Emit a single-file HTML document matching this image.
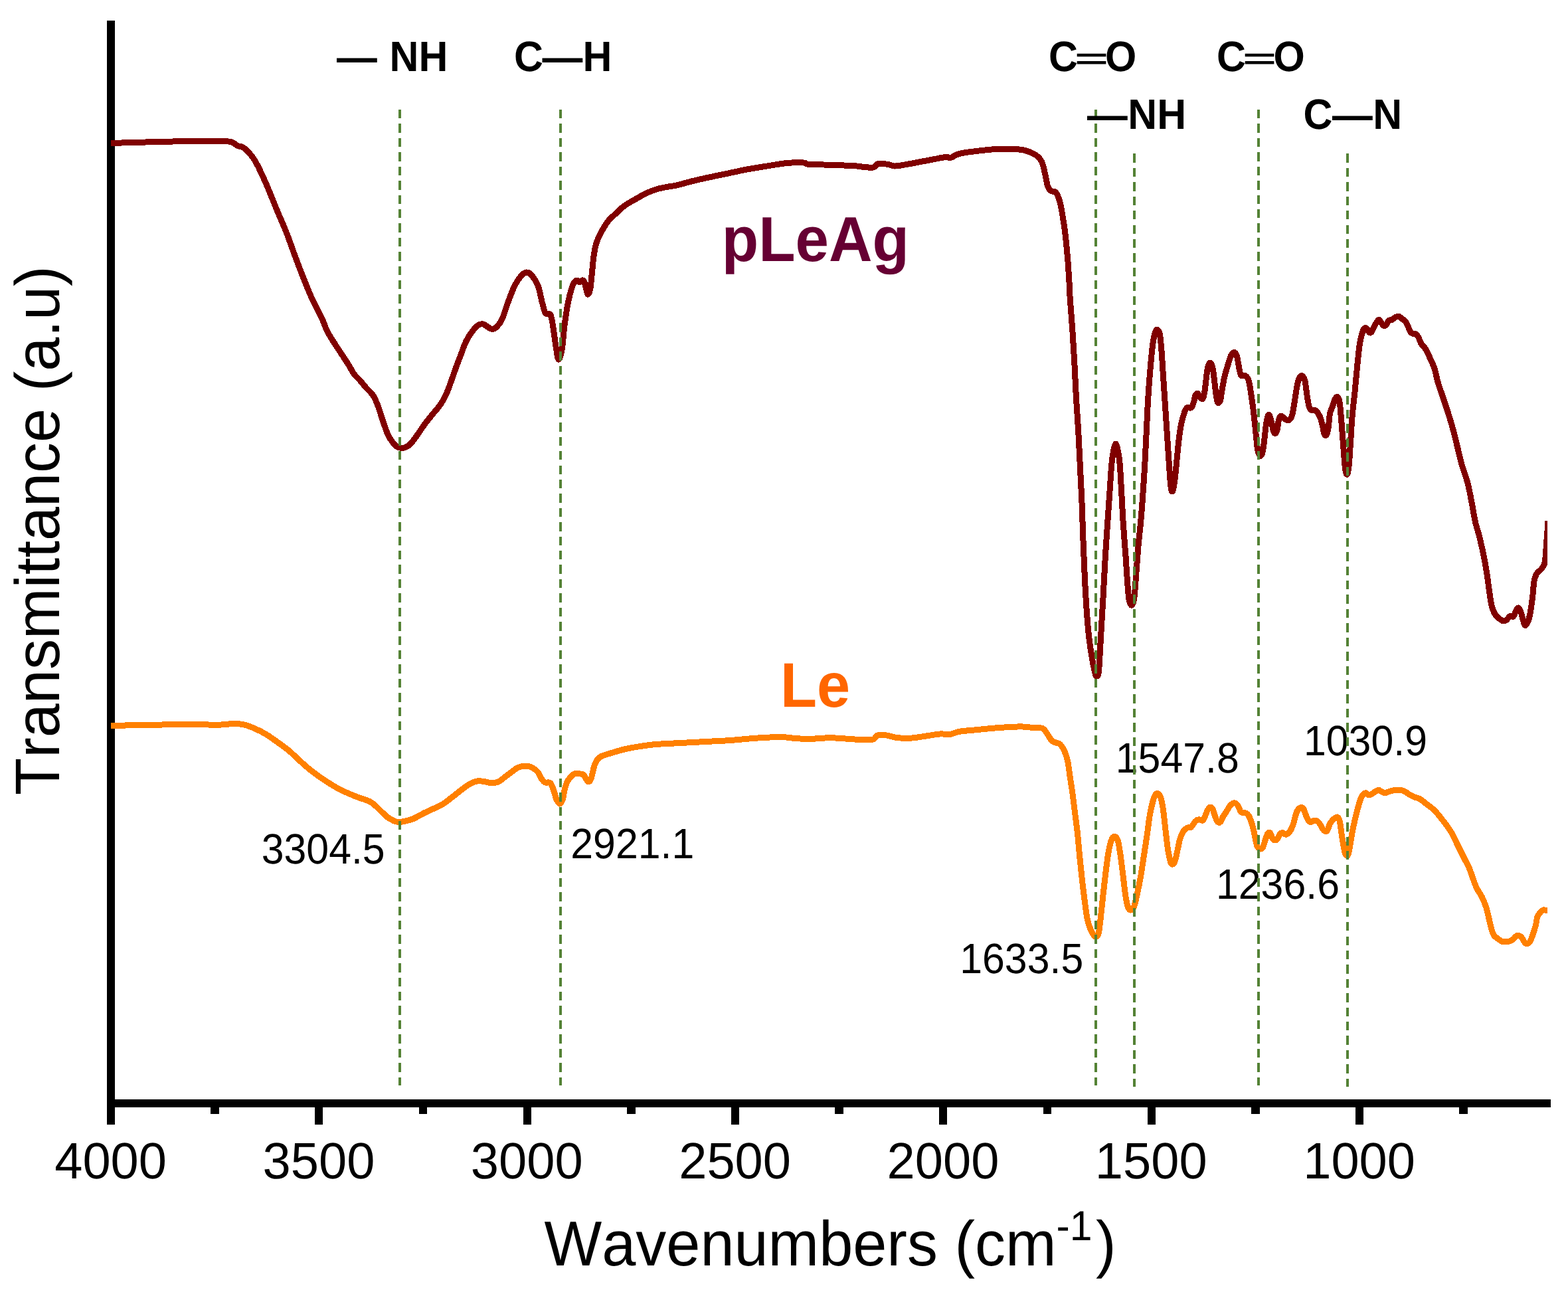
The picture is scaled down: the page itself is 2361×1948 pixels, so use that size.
<!DOCTYPE html>
<html lang="en">
<head>
<meta charset="utf-8">
<title>FTIR spectra of Le and pLeAg</title>
<style>
html,body{margin:0;padding:0;background:#fff;}
body{width:2361px;height:1948px;overflow:hidden;}
svg{display:block;}
text{font-family:"Liberation Sans",sans-serif;font-kerning:none;font-variant-ligatures:none;text-rendering:geometricPrecision;}
.b{font-weight:bold;}
</style>
</head>
<body>
<svg width="2361" height="1948" viewBox="0 0 2361 1948">
<rect x="0" y="0" width="2361" height="1948" fill="#ffffff"/>
<g fill="#000" shape-rendering="crispEdges">
<rect x="161.00" y="31" width="12" height="1661.75"/>
<rect x="161.00" y="1655.00" width="2174.00" height="12"/>
<rect x="161.00" y="1661.00" width="12" height="31.75"/>
<rect x="474.33" y="1661.00" width="12" height="31.75"/>
<rect x="787.66" y="1661.00" width="12" height="31.75"/>
<rect x="1100.99" y="1661.00" width="12" height="31.75"/>
<rect x="1414.32" y="1661.00" width="12" height="31.75"/>
<rect x="1727.65" y="1661.00" width="12" height="31.75"/>
<rect x="2040.98" y="1661.00" width="12" height="31.75"/>
<rect x="317.26" y="1661.00" width="12.80" height="16.00"/>
<rect x="630.60" y="1661.00" width="12.80" height="16.00"/>
<rect x="943.92" y="1661.00" width="12.80" height="16.00"/>
<rect x="1257.25" y="1661.00" width="12.80" height="16.00"/>
<rect x="1570.58" y="1661.00" width="12.80" height="16.00"/>
<rect x="1883.91" y="1661.00" width="12.80" height="16.00"/>
<rect x="2197.24" y="1661.00" width="12.80" height="16.00"/>
</g>
<defs><clipPath id="plotclip"><rect x="167" y="0" width="2163" height="1948"/></clipPath></defs>
<g clip-path="url(#plotclip)" shape-rendering="crispEdges">
<path d="M160.00 1092.50C161.12 1092.50 158.00 1092.67 166.75 1092.50C175.50 1092.33 196.54 1091.79 212.50 1091.50C228.46 1091.21 247.92 1090.96 262.50 1090.75C277.08 1090.54 289.58 1090.12 300.00 1090.25C310.42 1090.38 316.25 1091.62 325.00 1091.50C333.75 1091.38 345.42 1089.58 352.50 1089.50C359.58 1089.42 362.50 1089.88 367.50 1091.00C372.50 1092.12 377.08 1093.92 382.50 1096.25C387.92 1098.58 394.17 1101.54 400.00 1105.00C405.83 1108.46 411.67 1112.83 417.50 1117.00C423.33 1121.17 429.17 1125.12 435.00 1130.00C440.83 1134.88 446.67 1141.04 452.50 1146.25C458.33 1151.46 464.17 1156.67 470.00 1161.25C475.83 1165.83 480.83 1169.38 487.50 1173.75C494.17 1178.12 502.08 1183.33 510.00 1187.50C517.92 1191.67 527.08 1195.50 535.00 1198.75C542.92 1202.00 551.67 1203.88 557.50 1207.00C563.33 1210.12 565.83 1213.75 570.00 1217.50C574.17 1221.25 578.75 1226.50 582.50 1229.50C586.25 1232.50 589.58 1234.17 592.50 1235.50C595.42 1236.83 597.08 1237.38 600.00 1237.50C602.92 1237.62 606.25 1237.08 610.00 1236.25C613.75 1235.42 617.92 1234.46 622.50 1232.50C627.08 1230.54 632.50 1227.00 637.50 1224.50C642.50 1222.00 647.50 1219.92 652.50 1217.50C657.50 1215.08 662.50 1213.12 667.50 1210.00C672.50 1206.88 677.50 1202.58 682.50 1198.75C687.50 1194.92 692.92 1190.33 697.50 1187.00C702.08 1183.67 706.25 1180.62 710.00 1178.75C713.75 1176.88 716.67 1176.08 720.00 1175.75C723.33 1175.42 726.67 1176.25 730.00 1176.75C733.33 1177.25 736.67 1178.71 740.00 1178.75C743.33 1178.79 746.67 1178.46 750.00 1177.00C753.33 1175.54 756.67 1172.42 760.00 1170.00C763.33 1167.58 766.67 1164.92 770.00 1162.50C773.33 1160.08 776.46 1157.08 780.00 1155.50C783.54 1153.92 787.71 1153.00 791.25 1153.00C794.79 1153.00 798.12 1153.92 801.25 1155.50C804.38 1157.08 807.50 1159.46 810.00 1162.50C812.50 1165.54 814.38 1171.17 816.25 1173.75C818.12 1176.33 819.17 1177.17 821.25 1178.00C823.33 1178.83 826.67 1176.75 828.75 1178.75C830.83 1180.75 832.29 1186.04 833.75 1190.00C835.21 1193.96 836.25 1199.38 837.50 1202.50C838.75 1205.62 840.21 1207.58 841.25 1208.75C842.29 1209.92 842.71 1210.54 843.75 1209.50C844.79 1208.46 846.46 1205.75 847.50 1202.50C848.54 1199.25 848.96 1194.17 850.00 1190.00C851.04 1185.83 852.08 1181.04 853.75 1177.50C855.42 1173.96 857.92 1170.92 860.00 1168.75C862.08 1166.58 863.96 1165.12 866.25 1164.50C868.54 1163.88 871.67 1164.71 873.75 1165.00C875.83 1165.29 877.29 1165.00 878.75 1166.25C880.21 1167.50 881.25 1170.71 882.50 1172.50C883.75 1174.29 885.00 1177.00 886.25 1177.00C887.50 1177.00 888.96 1174.92 890.00 1172.50C891.04 1170.08 891.67 1165.83 892.50 1162.50C893.33 1159.17 893.96 1155.50 895.00 1152.50C896.04 1149.50 897.08 1146.79 898.75 1144.50C900.42 1142.21 901.46 1140.54 905.00 1138.75C908.54 1136.96 914.17 1135.54 920.00 1133.75C925.83 1131.96 932.92 1129.67 940.00 1128.00C947.08 1126.33 954.58 1125.00 962.50 1123.75C970.42 1122.50 977.08 1121.38 987.50 1120.50C997.92 1119.62 1012.50 1119.17 1025.00 1118.50C1037.50 1117.83 1050.00 1117.17 1062.50 1116.50C1075.00 1115.83 1087.50 1115.38 1100.00 1114.50C1112.50 1113.62 1125.00 1112.08 1137.50 1111.25C1150.00 1110.42 1165.42 1109.50 1175.00 1109.50C1184.58 1109.50 1187.92 1110.75 1195.00 1111.25C1202.08 1111.75 1208.33 1112.58 1217.50 1112.50C1226.67 1112.42 1239.58 1110.75 1250.00 1110.75C1260.42 1110.75 1271.67 1112.00 1280.00 1112.50C1288.33 1113.00 1294.17 1113.67 1300.00 1113.75C1305.83 1113.83 1311.46 1114.12 1315.00 1113.00C1318.54 1111.88 1317.92 1108.00 1321.25 1107.00C1324.58 1106.00 1330.21 1106.42 1335.00 1107.00C1339.79 1107.58 1344.17 1109.79 1350.00 1110.50C1355.83 1111.21 1363.33 1111.54 1370.00 1111.25C1376.67 1110.96 1382.50 1109.79 1390.00 1108.75C1397.50 1107.71 1408.33 1105.54 1415.00 1105.00C1421.67 1104.46 1425.00 1106.12 1430.00 1105.50C1435.00 1104.88 1438.33 1102.38 1445.00 1101.25C1451.67 1100.12 1461.67 1099.58 1470.00 1098.75C1478.33 1097.92 1486.67 1096.96 1495.00 1096.25C1503.33 1095.54 1512.50 1094.88 1520.00 1094.50C1527.50 1094.12 1533.75 1093.79 1540.00 1094.00C1546.25 1094.21 1552.50 1095.33 1557.50 1095.75C1562.50 1096.17 1566.88 1095.17 1570.00 1096.50C1573.12 1097.83 1573.96 1100.67 1576.25 1103.75C1578.54 1106.83 1581.46 1112.62 1583.75 1115.00C1586.04 1117.38 1587.92 1117.08 1590.00 1118.00C1592.08 1118.92 1594.17 1118.50 1596.25 1120.50C1598.33 1122.50 1600.62 1125.92 1602.50 1130.00C1604.38 1134.08 1606.04 1138.33 1607.50 1145.00C1608.96 1151.67 1610.00 1161.67 1611.25 1170.00C1612.50 1178.33 1613.75 1185.83 1615.00 1195.00C1616.25 1204.17 1617.50 1215.00 1618.75 1225.00C1620.00 1235.00 1621.25 1243.33 1622.50 1255.00C1623.75 1266.67 1625.00 1282.50 1626.25 1295.00C1627.50 1307.50 1628.75 1319.17 1630.00 1330.00C1631.25 1340.83 1632.50 1350.83 1633.75 1360.00C1635.00 1369.17 1636.04 1378.33 1637.50 1385.00C1638.96 1391.67 1640.83 1396.04 1642.50 1400.00C1644.17 1403.96 1646.04 1407.08 1647.50 1408.75C1648.96 1410.42 1650.08 1410.83 1651.25 1410.00C1652.42 1409.17 1653.46 1408.75 1654.50 1403.75C1655.54 1398.75 1656.38 1389.79 1657.50 1380.00C1658.62 1370.21 1660.00 1356.25 1661.25 1345.00C1662.50 1333.75 1663.75 1322.50 1665.00 1312.50C1666.25 1302.50 1667.50 1292.50 1668.75 1285.00C1670.00 1277.50 1671.25 1271.67 1672.50 1267.50C1673.75 1263.33 1675.00 1261.25 1676.25 1260.00C1677.50 1258.75 1678.75 1258.75 1680.00 1260.00C1681.25 1261.25 1682.50 1262.50 1683.75 1267.50C1685.00 1272.50 1686.25 1281.25 1687.50 1290.00C1688.75 1298.75 1690.00 1310.00 1691.25 1320.00C1692.50 1330.00 1693.75 1342.29 1695.00 1350.00C1696.25 1357.71 1697.50 1362.92 1698.75 1366.25C1700.00 1369.58 1701.04 1370.21 1702.50 1370.00C1703.96 1369.79 1705.83 1369.17 1707.50 1365.00C1709.17 1360.83 1710.83 1352.50 1712.50 1345.00C1714.17 1337.50 1715.83 1329.58 1717.50 1320.00C1719.17 1310.42 1720.83 1298.33 1722.50 1287.50C1724.17 1276.67 1726.04 1265.00 1727.50 1255.00C1728.96 1245.00 1729.79 1235.83 1731.25 1227.50C1732.71 1219.17 1734.79 1210.21 1736.25 1205.00C1737.71 1199.79 1738.75 1197.92 1740.00 1196.25C1741.25 1194.58 1742.50 1194.38 1743.75 1195.00C1745.00 1195.62 1746.25 1196.25 1747.50 1200.00C1748.75 1203.75 1750.00 1209.17 1751.25 1217.50C1752.50 1225.83 1753.75 1239.58 1755.00 1250.00C1756.25 1260.42 1757.50 1272.08 1758.75 1280.00C1760.00 1287.92 1761.46 1293.96 1762.50 1297.50C1763.54 1301.04 1763.96 1301.25 1765.00 1301.25C1766.04 1301.25 1767.50 1300.62 1768.75 1297.50C1770.00 1294.38 1771.25 1287.92 1772.50 1282.50C1773.75 1277.08 1774.79 1270.00 1776.25 1265.00C1777.71 1260.00 1779.38 1255.62 1781.25 1252.50C1783.12 1249.38 1785.42 1247.50 1787.50 1246.25C1789.58 1245.00 1791.67 1246.67 1793.75 1245.00C1795.83 1243.33 1798.12 1238.12 1800.00 1236.25C1801.88 1234.38 1803.12 1233.96 1805.00 1233.75C1806.88 1233.54 1809.58 1236.04 1811.25 1235.00C1812.92 1233.96 1813.75 1230.21 1815.00 1227.50C1816.25 1224.79 1817.50 1220.83 1818.75 1218.75C1820.00 1216.67 1821.25 1215.00 1822.50 1215.00C1823.75 1215.00 1825.00 1216.25 1826.25 1218.75C1827.50 1221.25 1828.75 1226.88 1830.00 1230.00C1831.25 1233.12 1832.50 1236.25 1833.75 1237.50C1835.00 1238.75 1836.25 1238.75 1837.50 1237.50C1838.75 1236.25 1839.79 1232.50 1841.25 1230.00C1842.71 1227.50 1844.38 1225.42 1846.25 1222.50C1848.12 1219.58 1850.42 1214.79 1852.50 1212.50C1854.58 1210.21 1856.88 1208.75 1858.75 1208.75C1860.62 1208.75 1862.08 1210.21 1863.75 1212.50C1865.42 1214.79 1866.88 1220.62 1868.75 1222.50C1870.62 1224.38 1873.12 1222.92 1875.00 1223.75C1876.88 1224.58 1878.33 1224.79 1880.00 1227.50C1881.67 1230.21 1883.54 1235.42 1885.00 1240.00C1886.46 1244.58 1887.50 1249.58 1888.75 1255.00C1890.00 1260.42 1891.25 1268.75 1892.50 1272.50C1893.75 1276.25 1894.79 1276.88 1896.25 1277.50C1897.71 1278.12 1899.79 1278.33 1901.25 1276.25C1902.71 1274.17 1903.75 1268.54 1905.00 1265.00C1906.25 1261.46 1907.50 1256.88 1908.75 1255.00C1910.00 1253.12 1911.25 1252.50 1912.50 1253.75C1913.75 1255.00 1915.00 1260.62 1916.25 1262.50C1917.50 1264.38 1918.75 1265.00 1920.00 1265.00C1921.25 1265.00 1922.50 1264.17 1923.75 1262.50C1925.00 1260.83 1926.25 1256.46 1927.50 1255.00C1928.75 1253.54 1929.79 1253.54 1931.25 1253.75C1932.71 1253.96 1934.38 1256.67 1936.25 1256.25C1938.12 1255.83 1940.62 1253.96 1942.50 1251.25C1944.38 1248.54 1945.83 1244.79 1947.50 1240.00C1949.17 1235.21 1950.83 1226.46 1952.50 1222.50C1954.17 1218.54 1955.83 1217.08 1957.50 1216.25C1959.17 1215.42 1960.83 1215.21 1962.50 1217.50C1964.17 1219.79 1965.83 1226.67 1967.50 1230.00C1969.17 1233.33 1970.42 1236.67 1972.50 1237.50C1974.58 1238.33 1977.71 1234.79 1980.00 1235.00C1982.29 1235.21 1984.38 1236.67 1986.25 1238.75C1988.12 1240.83 1989.79 1245.42 1991.25 1247.50C1992.71 1249.58 1993.75 1250.83 1995.00 1251.25C1996.25 1251.67 1997.50 1251.88 1998.75 1250.00C2000.00 1248.12 2001.04 1242.71 2002.50 1240.00C2003.96 1237.29 2005.62 1235.42 2007.50 1233.75C2009.38 1232.08 2012.08 1229.38 2013.75 1230.00C2015.42 1230.62 2016.46 1233.33 2017.50 1237.50C2018.54 1241.67 2018.96 1248.33 2020.00 1255.00C2021.04 1261.67 2022.71 1272.29 2023.75 1277.50C2024.79 1282.71 2025.29 1284.58 2026.25 1286.25C2027.21 1287.92 2028.46 1289.38 2029.50 1287.50C2030.54 1285.62 2031.38 1280.83 2032.50 1275.00C2033.62 1269.17 2035.00 1259.17 2036.25 1252.50C2037.50 1245.83 2038.54 1241.25 2040.00 1235.00C2041.46 1228.75 2043.33 1220.83 2045.00 1215.00C2046.67 1209.17 2048.12 1203.54 2050.00 1200.00C2051.88 1196.46 2054.38 1194.25 2056.25 1193.75C2058.12 1193.25 2059.58 1196.79 2061.25 1197.00C2062.92 1197.21 2064.58 1195.96 2066.25 1195.00C2067.92 1194.04 2069.62 1192.17 2071.25 1191.25C2072.88 1190.33 2074.75 1189.58 2076.00 1189.50C2077.25 1189.42 2077.25 1190.04 2078.75 1190.75C2080.25 1191.46 2082.71 1193.67 2085.00 1193.75C2087.29 1193.83 2090.00 1191.96 2092.50 1191.25C2095.00 1190.54 2097.50 1189.83 2100.00 1189.50C2102.50 1189.17 2105.00 1188.96 2107.50 1189.25C2110.00 1189.54 2112.50 1190.08 2115.00 1191.25C2117.50 1192.42 2120.00 1194.79 2122.50 1196.25C2125.00 1197.71 2127.50 1198.96 2130.00 1200.00C2132.50 1201.04 2134.58 1200.83 2137.50 1202.50C2140.42 1204.17 2143.75 1207.08 2147.50 1210.00C2151.25 1212.92 2155.83 1215.83 2160.00 1220.00C2164.17 1224.17 2168.33 1229.58 2172.50 1235.00C2176.67 1240.42 2181.25 1246.25 2185.00 1252.50C2188.75 1258.75 2191.67 1265.83 2195.00 1272.50C2198.33 1279.17 2202.08 1286.67 2205.00 1292.50C2207.92 1298.33 2210.21 1302.08 2212.50 1307.50C2214.79 1312.92 2216.88 1320.00 2218.75 1325.00C2220.62 1330.00 2221.67 1333.33 2223.75 1337.50C2225.83 1341.67 2228.96 1345.42 2231.25 1350.00C2233.54 1354.58 2235.62 1359.17 2237.50 1365.00C2239.38 1370.83 2241.04 1379.17 2242.50 1385.00C2243.96 1390.83 2245.00 1396.04 2246.25 1400.00C2247.50 1403.96 2248.33 1406.46 2250.00 1408.75C2251.67 1411.04 2254.17 1412.29 2256.25 1413.75C2258.33 1415.21 2259.79 1416.96 2262.50 1417.50C2265.21 1418.04 2269.79 1417.62 2272.50 1417.00C2275.21 1416.38 2276.88 1415.12 2278.75 1413.75C2280.62 1412.38 2281.88 1409.38 2283.75 1408.75C2285.62 1408.12 2288.12 1408.54 2290.00 1410.00C2291.88 1411.46 2293.54 1415.71 2295.00 1417.50C2296.46 1419.29 2297.29 1420.75 2298.75 1420.75C2300.21 1420.75 2302.08 1420.12 2303.75 1417.50C2305.42 1414.88 2307.29 1409.17 2308.75 1405.00C2310.21 1400.83 2311.46 1396.67 2312.50 1392.50C2313.54 1388.33 2313.75 1383.33 2315.00 1380.00C2316.25 1376.67 2318.54 1374.17 2320.00 1372.50C2321.46 1370.83 2322.42 1370.38 2323.75 1370.00C2325.08 1369.62 2326.29 1370.20 2328.00 1370.25C2329.71 1370.30 2333.00 1370.29 2334.00 1370.30" fill="none" stroke="#ff8000" stroke-width="9" stroke-linejoin="round" stroke-linecap="butt"/>
<path d="M160.00 215.75C161.12 215.71 160.08 215.71 166.75 215.50C173.42 215.29 186.12 214.88 200.00 214.50C213.88 214.12 237.50 213.54 250.00 213.25C262.50 212.96 264.58 212.83 275.00 212.75C285.42 212.67 300.62 212.67 312.50 212.75C324.38 212.83 338.75 212.12 346.25 213.25C353.75 214.38 354.38 218.17 357.50 219.50C360.62 220.83 362.08 219.50 365.00 221.25C367.92 223.00 371.67 226.25 375.00 230.00C378.33 233.75 380.83 236.25 385.00 243.75C389.17 251.25 394.58 262.71 400.00 275.00C405.42 287.29 412.29 305.00 417.50 317.50C422.71 330.00 426.67 338.33 431.25 350.00C435.83 361.67 440.62 375.83 445.00 387.50C449.38 399.17 453.33 409.58 457.50 420.00C461.67 430.42 465.42 440.00 470.00 450.00C474.58 460.00 481.10 471.67 485.00 480.00C488.90 488.33 489.38 492.50 493.38 500.00C497.38 507.50 505.02 518.75 509.00 525.00C512.98 531.25 514.52 533.33 517.25 537.50C519.98 541.67 522.71 545.71 525.38 550.00C528.04 554.29 530.48 559.50 533.25 563.25C536.02 567.00 539.04 569.12 542.00 572.50C544.96 575.88 548.38 580.54 551.00 583.50C553.62 586.46 555.73 587.92 557.75 590.25C559.77 592.58 561.29 594.21 563.12 597.50C564.96 600.79 566.98 605.42 568.75 610.00C570.52 614.58 572.08 620.00 573.75 625.00C575.42 630.00 576.98 635.00 578.75 640.00C580.52 645.00 582.40 650.83 584.38 655.00C586.35 659.17 588.54 662.19 590.62 665.00C592.71 667.81 594.69 670.31 596.88 671.88C599.06 673.44 601.35 674.17 603.75 674.38C606.15 674.58 608.75 674.27 611.25 673.12C613.75 671.98 616.35 669.90 618.75 667.50C621.15 665.10 623.33 661.88 625.62 658.75C627.92 655.62 629.90 652.50 632.50 648.75C635.10 645.00 638.12 640.42 641.25 636.25C644.38 632.08 647.71 628.12 651.25 623.75C654.79 619.38 659.38 614.38 662.50 610.00C665.62 605.62 667.71 602.08 670.00 597.50C672.29 592.92 674.17 587.92 676.25 582.50C678.33 577.08 680.42 570.83 682.50 565.00C684.58 559.17 686.67 553.12 688.75 547.50C690.83 541.88 692.92 536.67 695.00 531.25C697.08 525.83 698.71 520.21 701.25 515.00C703.79 509.79 707.12 504.25 710.25 500.00C713.38 495.75 717.12 491.50 720.00 489.50C722.88 487.50 725.00 487.50 727.50 488.00C730.00 488.50 732.71 491.25 735.00 492.50C737.29 493.75 738.96 495.71 741.25 495.50C743.54 495.29 746.25 493.83 748.75 491.25C751.25 488.67 753.54 486.04 756.25 480.00C758.96 473.96 761.88 463.33 765.00 455.00C768.12 446.67 771.67 436.67 775.00 430.00C778.33 423.33 782.08 418.33 785.00 415.00C787.92 411.67 790.00 410.21 792.50 410.00C795.00 409.79 797.08 410.42 800.00 413.75C802.92 417.08 807.29 423.12 810.00 430.00C812.71 436.88 814.38 448.12 816.25 455.00C818.12 461.88 819.17 468.12 821.25 471.25C823.33 474.38 826.88 470.62 828.75 473.75C830.62 476.88 831.04 481.46 832.50 490.00C833.96 498.54 836.04 516.46 837.50 525.00C838.96 533.54 839.79 541.25 841.25 541.25C842.71 541.25 844.79 533.54 846.25 525.00C847.71 516.46 848.54 501.25 850.00 490.00C851.46 478.75 853.12 467.08 855.00 457.50C856.88 447.92 859.38 438.25 861.25 432.50C863.12 426.75 864.79 424.67 866.25 423.00C867.71 421.33 868.88 422.21 870.00 422.50C871.12 422.79 871.92 424.83 873.00 424.75C874.08 424.67 875.42 422.17 876.50 422.00C877.58 421.83 878.62 422.21 879.50 423.75C880.38 425.29 880.83 428.04 881.75 431.25C882.67 434.46 883.83 442.38 885.00 443.00C886.17 443.62 887.71 440.08 888.75 435.00C889.79 429.92 890.42 420.42 891.25 412.50C892.08 404.58 892.71 395.00 893.75 387.50C894.79 380.00 895.83 373.33 897.50 367.50C899.17 361.67 900.83 358.12 903.75 352.50C906.67 346.88 911.04 338.96 915.00 333.75C918.96 328.54 923.33 325.21 927.50 321.25C931.67 317.29 935.00 313.62 940.00 310.00C945.00 306.38 951.67 302.83 957.50 299.50C963.33 296.17 969.58 292.50 975.00 290.00C980.42 287.50 985.00 285.96 990.00 284.50C995.00 283.04 1000.00 282.21 1005.00 281.25C1010.00 280.29 1014.17 280.08 1020.00 278.75C1025.83 277.42 1032.50 275.12 1040.00 273.25C1047.50 271.38 1055.83 269.50 1065.00 267.50C1074.17 265.50 1085.00 263.33 1095.00 261.25C1105.00 259.17 1115.00 256.88 1125.00 255.00C1135.00 253.12 1145.00 251.58 1155.00 250.00C1165.00 248.42 1175.83 246.33 1185.00 245.50C1194.17 244.67 1204.58 244.67 1210.00 245.00C1215.42 245.33 1212.50 247.00 1217.50 247.50C1222.50 248.00 1232.08 247.79 1240.00 248.00C1247.92 248.21 1256.67 248.42 1265.00 248.75C1273.33 249.08 1284.17 249.58 1290.00 250.00C1295.83 250.42 1295.83 250.92 1300.00 251.25C1304.17 251.58 1311.25 252.83 1315.00 252.00C1318.75 251.17 1318.75 247.00 1322.50 246.25C1326.25 245.50 1333.33 246.88 1337.50 247.50C1341.67 248.12 1342.92 250.00 1347.50 250.00C1352.08 250.00 1358.75 248.54 1365.00 247.50C1371.25 246.46 1378.33 245.00 1385.00 243.75C1391.67 242.50 1398.33 241.25 1405.00 240.00C1411.67 238.75 1420.62 236.67 1425.00 236.25C1429.38 235.83 1427.92 238.33 1431.25 237.50C1434.58 236.67 1438.54 232.92 1445.00 231.25C1451.46 229.58 1460.83 228.62 1470.00 227.50C1479.17 226.38 1490.83 225.00 1500.00 224.50C1509.17 224.00 1517.92 224.21 1525.00 224.50C1532.08 224.79 1536.67 224.71 1542.50 226.25C1548.33 227.79 1555.62 230.83 1560.00 233.75C1564.38 236.67 1566.46 238.96 1568.75 243.75C1571.04 248.54 1572.29 256.46 1573.75 262.50C1575.21 268.54 1576.04 275.83 1577.50 280.00C1578.96 284.17 1580.42 285.83 1582.50 287.50C1584.58 289.17 1587.71 287.08 1590.00 290.00C1592.29 292.92 1594.58 299.17 1596.25 305.00C1597.92 310.83 1598.75 317.50 1600.00 325.00C1601.25 332.50 1602.50 339.58 1603.75 350.00C1605.00 360.42 1606.46 375.00 1607.50 387.50C1608.54 400.00 1609.38 414.58 1610.00 425.00C1610.62 435.42 1610.42 437.50 1611.25 450.00C1612.08 462.50 1613.88 483.33 1615.00 500.00C1616.12 516.67 1617.08 533.33 1618.00 550.00C1618.92 566.67 1619.54 583.33 1620.50 600.00C1621.46 616.67 1622.79 633.33 1623.75 650.00C1624.71 666.67 1625.42 683.33 1626.25 700.00C1627.08 716.67 1628.04 733.33 1628.75 750.00C1629.46 766.67 1629.88 783.33 1630.50 800.00C1631.12 816.67 1631.75 833.33 1632.50 850.00C1633.25 866.67 1633.96 883.33 1635.00 900.00C1636.04 916.67 1637.29 935.42 1638.75 950.00C1640.21 964.58 1642.08 977.08 1643.75 987.50C1645.42 997.92 1647.50 1007.42 1648.75 1012.50C1650.00 1017.58 1650.29 1018.42 1651.25 1018.00C1652.21 1017.58 1653.46 1019.67 1654.50 1010.00C1655.54 1000.33 1656.42 978.33 1657.50 960.00C1658.58 941.67 1659.85 920.50 1661.00 900.00C1662.15 879.50 1663.32 855.33 1664.40 837.00C1665.48 818.67 1666.47 805.33 1667.50 790.00C1668.53 774.67 1669.56 760.00 1670.60 745.00C1671.64 730.00 1672.78 710.83 1673.75 700.00C1674.72 689.17 1675.36 685.33 1676.40 680.00C1677.44 674.67 1678.80 668.00 1680.00 668.00C1681.20 668.00 1682.56 674.67 1683.60 680.00C1684.64 685.33 1685.37 689.17 1686.25 700.00C1687.13 710.83 1688.07 730.42 1688.90 745.00C1689.73 759.58 1690.23 772.08 1691.25 787.50C1692.27 802.92 1693.96 822.92 1695.00 837.50C1696.04 852.08 1696.67 864.17 1697.50 875.00C1698.33 885.83 1698.96 896.46 1700.00 902.50C1701.04 908.54 1702.50 911.25 1703.75 911.25C1705.00 911.25 1706.46 908.54 1707.50 902.50C1708.54 896.46 1708.96 887.92 1710.00 875.00C1711.04 862.08 1712.50 839.58 1713.75 825.00C1715.00 810.42 1716.38 800.00 1717.50 787.50C1718.62 775.00 1719.46 764.58 1720.50 750.00C1721.54 735.42 1722.79 716.67 1723.75 700.00C1724.71 683.33 1725.42 666.67 1726.25 650.00C1727.08 633.33 1727.71 616.67 1728.75 600.00C1729.79 583.33 1731.25 564.17 1732.50 550.00C1733.75 535.83 1735.08 523.33 1736.25 515.00C1737.42 506.67 1738.46 503.12 1739.50 500.00C1740.54 496.88 1741.38 495.83 1742.50 496.25C1743.62 496.67 1745.21 497.71 1746.25 502.50C1747.29 507.29 1747.92 515.00 1748.75 525.00C1749.58 535.00 1750.42 550.00 1751.25 562.50C1752.08 575.00 1752.92 587.50 1753.75 600.00C1754.58 612.50 1755.42 625.00 1756.25 637.50C1757.08 650.00 1757.92 662.50 1758.75 675.00C1759.58 687.50 1760.54 702.92 1761.25 712.50C1761.96 722.08 1762.38 727.92 1763.00 732.50C1763.62 737.08 1764.25 740.00 1765.00 740.00C1765.75 740.00 1766.67 737.08 1767.50 732.50C1768.33 727.92 1769.17 720.00 1770.00 712.50C1770.83 705.00 1771.67 695.83 1772.50 687.50C1773.33 679.17 1773.96 670.83 1775.00 662.50C1776.04 654.17 1777.29 644.58 1778.75 637.50C1780.21 630.42 1782.29 623.96 1783.75 620.00C1785.21 616.04 1785.83 614.79 1787.50 613.75C1789.17 612.71 1792.08 615.21 1793.75 613.75C1795.42 612.29 1796.46 608.12 1797.50 605.00C1798.54 601.88 1798.96 597.08 1800.00 595.00C1801.04 592.92 1802.50 591.88 1803.75 592.50C1805.00 593.12 1806.25 597.50 1807.50 598.75C1808.75 600.00 1810.21 601.46 1811.25 600.00C1812.29 598.54 1812.92 595.00 1813.75 590.00C1814.58 585.00 1815.42 576.25 1816.25 570.00C1817.08 563.75 1817.71 556.46 1818.75 552.50C1819.79 548.54 1821.25 545.83 1822.50 546.25C1823.75 546.67 1825.21 550.21 1826.25 555.00C1827.29 559.79 1827.92 568.33 1828.75 575.00C1829.58 581.67 1830.42 589.79 1831.25 595.00C1832.08 600.21 1832.71 605.00 1833.75 606.25C1834.79 607.50 1836.46 605.62 1837.50 602.50C1838.54 599.38 1838.96 593.33 1840.00 587.50C1841.04 581.67 1842.29 573.75 1843.75 567.50C1845.21 561.25 1847.08 555.42 1848.75 550.00C1850.42 544.58 1852.08 538.25 1853.75 535.00C1855.42 531.75 1857.29 530.29 1858.75 530.50C1860.21 530.71 1861.38 532.58 1862.50 536.25C1863.62 539.92 1864.46 547.71 1865.50 552.50C1866.54 557.29 1867.17 562.83 1868.75 565.00C1870.33 567.17 1873.12 564.25 1875.00 565.50C1876.88 566.75 1878.54 568.00 1880.00 572.50C1881.46 577.00 1882.50 584.58 1883.75 592.50C1885.00 600.42 1886.25 609.58 1887.50 620.00C1888.75 630.42 1890.21 645.42 1891.25 655.00C1892.29 664.58 1892.71 672.29 1893.75 677.50C1894.79 682.71 1896.25 685.83 1897.50 686.25C1898.75 686.67 1900.21 683.96 1901.25 680.00C1902.29 676.04 1902.92 669.17 1903.75 662.50C1904.58 655.83 1905.42 645.83 1906.25 640.00C1907.08 634.17 1907.92 630.00 1908.75 627.50C1909.58 625.00 1910.29 623.75 1911.25 625.00C1912.21 626.25 1913.54 631.25 1914.50 635.00C1915.46 638.75 1916.08 644.58 1917.00 647.50C1917.92 650.42 1919.00 652.50 1920.00 652.50C1921.00 652.50 1922.08 650.83 1923.00 647.50C1923.92 644.17 1924.54 636.04 1925.50 632.50C1926.46 628.96 1927.58 626.88 1928.75 626.25C1929.92 625.62 1931.04 627.71 1932.50 628.75C1933.96 629.79 1935.83 632.08 1937.50 632.50C1939.17 632.92 1941.04 632.92 1942.50 631.25C1943.96 629.58 1945.00 627.71 1946.25 622.50C1947.50 617.29 1948.75 607.50 1950.00 600.00C1951.25 592.50 1952.50 582.92 1953.75 577.50C1955.00 572.08 1956.25 569.38 1957.50 567.50C1958.75 565.62 1960.00 565.21 1961.25 566.25C1962.50 567.29 1963.88 568.96 1965.00 573.75C1966.12 578.54 1966.96 588.54 1968.00 595.00C1969.04 601.46 1970.08 608.75 1971.25 612.50C1972.42 616.25 1973.33 616.58 1975.00 617.50C1976.67 618.42 1979.17 616.33 1981.25 618.00C1983.33 619.67 1985.83 623.83 1987.50 627.50C1989.17 631.17 1990.21 635.83 1991.25 640.00C1992.29 644.17 1992.79 650.00 1993.75 652.50C1994.71 655.00 1995.96 656.25 1997.00 655.00C1998.04 653.75 1999.08 650.42 2000.00 645.00C2000.92 639.58 2001.46 627.92 2002.50 622.50C2003.54 617.08 2005.00 616.04 2006.25 612.50C2007.50 608.96 2008.75 603.75 2010.00 601.25C2011.25 598.75 2012.58 596.88 2013.75 597.50C2014.92 598.12 2016.04 599.58 2017.00 605.00C2017.96 610.42 2018.67 620.42 2019.50 630.00C2020.33 639.58 2021.17 651.67 2022.00 662.50C2022.83 673.33 2023.79 687.08 2024.50 695.00C2025.21 702.92 2025.54 706.88 2026.25 710.00C2026.96 713.12 2027.92 715.42 2028.75 713.75C2029.58 712.08 2030.42 708.54 2031.25 700.00C2032.08 691.46 2032.92 675.00 2033.75 662.50C2034.58 650.00 2035.21 637.08 2036.25 625.00C2037.29 612.92 2038.75 602.50 2040.00 590.00C2041.25 577.50 2042.50 562.08 2043.75 550.00C2045.00 537.92 2046.04 526.25 2047.50 517.50C2048.96 508.75 2050.92 501.46 2052.50 497.50C2054.08 493.54 2055.54 493.33 2057.00 493.75C2058.46 494.17 2059.92 498.96 2061.25 500.00C2062.58 501.04 2063.54 501.67 2065.00 500.00C2066.46 498.33 2068.17 493.12 2070.00 490.00C2071.83 486.88 2074.33 481.88 2076.00 481.25C2077.67 480.62 2078.71 484.71 2080.00 486.25C2081.29 487.79 2082.50 490.08 2083.75 490.50C2085.00 490.92 2086.25 490.08 2087.50 488.75C2088.75 487.42 2089.79 483.75 2091.25 482.50C2092.71 481.25 2094.58 482.08 2096.25 481.25C2097.92 480.42 2099.58 478.33 2101.25 477.50C2102.92 476.67 2104.58 475.83 2106.25 476.25C2107.92 476.67 2109.58 478.75 2111.25 480.00C2112.92 481.25 2114.79 481.88 2116.25 483.75C2117.71 485.62 2118.75 488.62 2120.00 491.25C2121.25 493.88 2122.50 497.62 2123.75 499.50C2125.00 501.38 2126.04 501.92 2127.50 502.50C2128.96 503.08 2131.04 501.96 2132.50 503.00C2133.96 504.04 2135.00 506.33 2136.25 508.75C2137.50 511.17 2138.33 514.79 2140.00 517.50C2141.67 520.21 2144.17 521.67 2146.25 525.00C2148.33 528.33 2150.21 532.50 2152.50 537.50C2154.79 542.50 2157.92 548.75 2160.00 555.00C2162.08 561.25 2162.92 567.92 2165.00 575.00C2167.08 582.08 2170.00 590.00 2172.50 597.50C2175.00 605.00 2177.50 612.08 2180.00 620.00C2182.50 627.92 2185.00 635.83 2187.50 645.00C2190.00 654.17 2192.71 665.83 2195.00 675.00C2197.29 684.17 2198.75 691.25 2201.25 700.00C2203.75 708.75 2207.50 717.92 2210.00 727.50C2212.50 737.08 2214.38 747.92 2216.25 757.50C2218.12 767.08 2219.38 776.67 2221.25 785.00C2223.12 793.33 2225.42 799.17 2227.50 807.50C2229.58 815.83 2231.88 825.83 2233.75 835.00C2235.62 844.17 2237.29 853.33 2238.75 862.50C2240.21 871.67 2241.25 881.67 2242.50 890.00C2243.75 898.33 2244.79 906.67 2246.25 912.50C2247.71 918.33 2249.38 921.88 2251.25 925.00C2253.12 928.12 2255.42 929.58 2257.50 931.25C2259.58 932.92 2261.88 934.71 2263.75 935.00C2265.62 935.29 2267.08 934.25 2268.75 933.00C2270.42 931.75 2272.08 928.33 2273.75 927.50C2275.42 926.67 2277.29 929.25 2278.75 928.00C2280.21 926.75 2281.25 922.17 2282.50 920.00C2283.75 917.83 2285.00 914.79 2286.25 915.00C2287.50 915.21 2288.75 917.92 2290.00 921.25C2291.25 924.58 2292.71 931.67 2293.75 935.00C2294.79 938.33 2295.21 940.83 2296.25 941.25C2297.29 941.67 2298.75 940.21 2300.00 937.50C2301.25 934.79 2302.50 931.25 2303.75 925.00C2305.00 918.75 2306.46 908.33 2307.50 900.00C2308.54 891.67 2308.96 881.04 2310.00 875.00C2311.04 868.96 2311.88 866.88 2313.75 863.75C2315.62 860.62 2319.22 858.96 2321.25 856.25C2323.28 853.54 2324.88 851.04 2325.90 847.50C2326.93 843.96 2326.98 839.58 2327.40 835.00C2327.82 830.42 2327.97 825.83 2328.40 820.00C2328.83 814.17 2329.58 806.04 2330.00 800.00C2330.42 793.96 2330.75 786.46 2330.90 783.75" fill="none" stroke="#800000" stroke-width="9" stroke-linejoin="round" stroke-linecap="butt"/>
</g>
<text transform="translate(166.60 1774.00) scale(1 1.014)" font-size="75.9" text-anchor="middle" xml:space="preserve">4000</text>
<text transform="translate(479.93 1774.00) scale(1 1.014)" font-size="75.9" text-anchor="middle" xml:space="preserve">3500</text>
<text transform="translate(793.26 1774.00) scale(1 1.014)" font-size="75.9" text-anchor="middle" xml:space="preserve">3000</text>
<text transform="translate(1106.59 1774.00) scale(1 1.014)" font-size="75.9" text-anchor="middle" xml:space="preserve">2500</text>
<text transform="translate(1419.92 1774.00) scale(1 1.014)" font-size="75.9" text-anchor="middle" xml:space="preserve">2000</text>
<text transform="translate(1733.25 1774.00) scale(1 1.014)" font-size="75.9" text-anchor="middle" xml:space="preserve">1500</text>
<text transform="translate(2046.58 1774.00) scale(1 1.014)" font-size="75.9" text-anchor="middle" xml:space="preserve">1000</text>
<text transform="translate(819.5 1904.5) scale(1 1.040)" font-size="91.9" xml:space="preserve">Wavenumbers (cm<tspan font-size="60.8" dy="-36.5">-1</tspan><tspan dy="36.5" dx="5.5">)</tspan></text>
<text transform="translate(89 1197) rotate(-90) scale(1 1.030)" font-size="91.9" xml:space="preserve">Transmittance (a.u)</text>
<text transform="translate(393.70 1300.00) scale(1 1.052)" font-size="60.8" text-anchor="start" xml:space="preserve">3304.5</text>
<text transform="translate(859.30 1292.20) scale(1 1.052)" font-size="60.8" text-anchor="start" xml:space="preserve">2921.1</text>
<text transform="translate(1631.20 1465.40) scale(1 1.052)" font-size="60.8" text-anchor="end" xml:space="preserve">1633.5</text>
<text transform="translate(1679.80 1163.30) scale(1 1.052)" font-size="60.8" text-anchor="start" xml:space="preserve">1547.8</text>
<text transform="translate(1831.00 1353.00) scale(1 1.052)" font-size="60.8" text-anchor="start" xml:space="preserve">1236.6</text>
<text transform="translate(1963.00 1136.75) scale(1 1.052)" font-size="60.8" text-anchor="start" xml:space="preserve">1030.9</text>
<text transform="translate(1086.80 392.50) scale(1 1.055)" font-size="90.7" text-anchor="start" class="b" fill="#660033" xml:space="preserve">pLeAg</text>
<text transform="translate(1175.00 1063.75) scale(1 1.055)" font-size="90.1" text-anchor="start" class="b" fill="#ff6600" xml:space="preserve">Le</text>
<g stroke="#548235" stroke-width="4" stroke-dasharray="13.4 8.02" fill="none" shape-rendering="crispEdges">
<line x1="602.0" y1="165.0" x2="602.0" y2="1634.0"/>
<line x1="844.0" y1="165.0" x2="844.0" y2="1634.0"/>
<line x1="1650.0" y1="165.0" x2="1650.0" y2="1634.0"/>
<line x1="1708.0" y1="231.4" x2="1708.0" y2="1636.0"/>
<line x1="1895.0" y1="165.0" x2="1895.0" y2="1634.0"/>
<line x1="2029.0" y1="231.4" x2="2029.0" y2="1636.0"/>
</g>
<text transform="translate(0 106.90) scale(1 1.055)" font-size="60.8" class="b" xml:space="preserve"><tspan x="507.10" dy="1.14">— </tspan><tspan x="586.53" dy="-1.14">NH</tspan></text>
<text transform="translate(0 106.90) scale(1 1.055)" font-size="60.8" class="b" xml:space="preserve"><tspan x="774.11" dy="0.00">C</tspan><tspan x="816.50" dy="1.14">—</tspan><tspan x="877.53" dy="-1.14">H</tspan></text>
<text transform="translate(0 106.90) scale(1 1.055)" font-size="60.8" class="b" xml:space="preserve"><tspan x="1579.01" dy="0.00">C</tspan><tspan x="1621.90" dy="0.76">═</tspan><tspan x="1664.11" dy="-0.76">O</tspan></text>
<text transform="translate(0 106.90) scale(1 1.055)" font-size="60.8" class="b" xml:space="preserve"><tspan x="1832.11" dy="0.00">C</tspan><tspan x="1874.90" dy="0.76">═</tspan><tspan x="1917.51" dy="-0.76">O</tspan></text>
<text transform="translate(0 193.90) scale(1 1.055)" font-size="60.8" class="b" xml:space="preserve"><tspan x="1637.00" dy="1.14">—</tspan><tspan x="1698.33" dy="-1.14">NH</tspan></text>
<text transform="translate(0 193.90) scale(1 1.055)" font-size="60.8" class="b" xml:space="preserve"><tspan x="1962.61" dy="0.00">C</tspan><tspan x="2005.90" dy="1.14">—</tspan><tspan x="2067.23" dy="-1.14">N</tspan></text>
</svg>
</body>
</html>
